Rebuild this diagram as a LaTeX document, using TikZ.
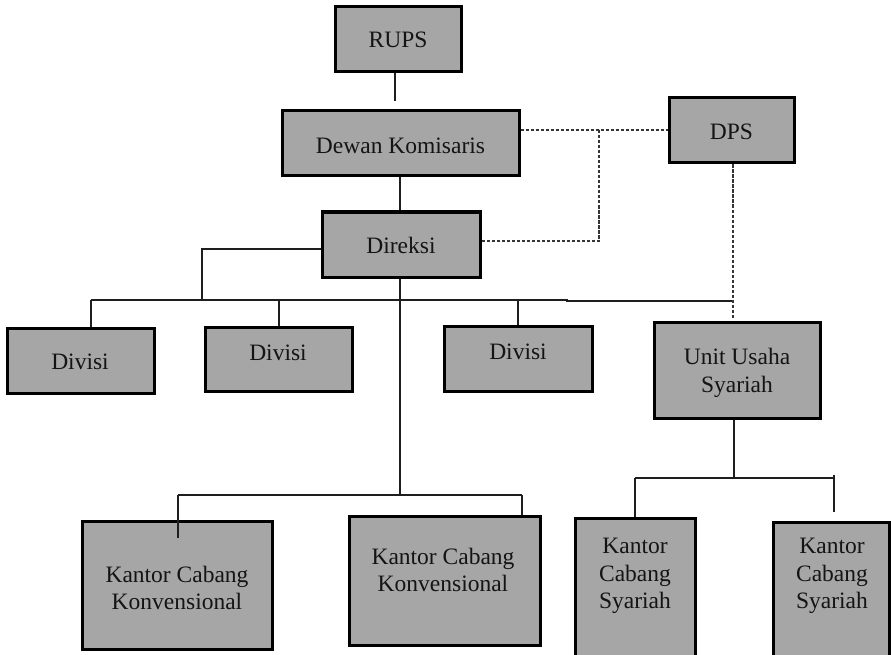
\documentclass[tikz,border=0pt]{standalone}
\usepackage{fontspec}
\setmainfont{Liberation Serif}
\definecolor{boxgray}{RGB}{166,166,166}
\definecolor{linegray}{RGB}{30,30,30}
\begin{document}
\begin{tikzpicture}[x=1pt,y=-1pt,
  box/.style={draw=black, line width=3pt, fill=boxgray, inner sep=0pt},
  txt/.style={font=\fontsize{23.5}{27.5}\selectfont, align=center, inner sep=0pt, text=black!92},
  conn/.style={draw=linegray, line width=1.4pt},
  dconn/.style={draw=linegray!90, line width=1.4pt, dash pattern=on 3.5pt off 1.5pt}]
\clip (0,0) rectangle (891,655);
\fill[white] (0,0) rectangle (891,655);
% boxes
\node[box, minimum width=126pt, minimum height=65pt] (rups) at (398,39.5) {};
\node[box, minimum width=237pt, minimum height=65pt] (dewan) at (400.5,143.5) {};
\node[box, minimum width=125pt, minimum height=65pt] (dps) at (731.5,130.5) {};
\node[box, minimum width=158pt, minimum height=65pt] (direksi) at (401,244.5) {};
\node[box, minimum width=147pt, minimum height=65pt] (div1) at (80.5,360.5) {};
\node[box, minimum width=147pt, minimum height=64pt] (div2) at (278.5,359) {};
\node[box, minimum width=148pt, minimum height=65pt] (div3) at (518,358.5) {};
\node[box, minimum width=166pt, minimum height=96pt] (uus) at (737,370) {};
\node[box, minimum width=190pt, minimum height=128pt] (kck1) at (177,585) {};
\node[box, minimum width=191pt, minimum height=129pt] (kck2) at (444.5,580.5) {};
\node[box, minimum width=120pt, minimum height=150pt] (kcs1) at (635,593) {};
\node[box, minimum width=116pt, minimum height=150pt] (kcs2) at (831,597) {};
% texts
\node[txt] (trups) at (398,40) {RUPS};
\node[txt] (tdewan) at (400.5,146) {Dewan Komisaris};
\node[txt] (tdps) at (731.5,132) {DPS};
\node[txt] (tdireksi) at (401,245) {Direksi};
\node[txt] (tdiv1) at (80,362) {Divisi};
\node[txt] (tdiv2) at (278,353) {Divisi};
\node[txt] (tdiv3) at (518,352) {Divisi};
\node[txt] (tuus) at (737,373) {Unit Usaha\\Syariah};
\node[txt] (tkck1) at (177,588) {Kantor Cabang\\Konvensional};
\node[txt] (tkck2) at (443,570) {Kantor Cabang\\Konvensional};
\node[txt] (tkcs1) at (635,576) {Kantor\\Cabang\\Syariah};
\node[txt] (tkcs2) at (832,576) {Kantor\\Cabang\\Syariah};
% junction coordinates
\coordinate (xa) at (395,0);
\coordinate (xb) at (400,0);
\coordinate (xc) at (599,130);
\coordinate (xd) at (733,0);
\coordinate (lt) at (202,249);
\coordinate (bus0) at (202,300);
\coordinate (busL) at (91,300);
\coordinate (busM) at (567,300);
\coordinate (busM2) at (567,301);
\coordinate (busR) at (734,301);
\coordinate (kb) at (400,495);
\coordinate (kbL) at (178,495);
\coordinate (kbR) at (522,495);
\coordinate (ub) at (734,478);
\coordinate (ubL) at (635,478);
\coordinate (ubR) at (834,478);
\coordinate (ubR0) at (834,475);
% solid connectors
\draw[conn, shorten >=8pt] (rups.south -| xa) -- (dewan.north -| xa);
\draw[conn] (dewan.south -| xb) -- (direksi.north -| xb);
\draw[conn] (direksi.west |- lt) -- (lt) -- (bus0);
\draw[conn] (busL) -- (busM) -- (busM2) -- (busR);
\draw[conn] (busL) -- (div1.north -| busL);
\draw[conn] (279,300) -- (div2.north -| 279,0);
\draw[conn] (518,300) -- (div3.north -| 518,0);
\draw[conn] (direksi.south -| xb) -- (kb);
\draw[conn] (kbL) -- (kbR);
\draw[conn] (kbL) -- (178,538);
\draw[conn] (kbR) -- (kck2.north -| kbR);
\draw[conn] (uus.south -| ub) -- (ub);
\draw[conn] (ubL) -- (ubR);
\draw[conn] (ubL) -- (kcs1.north -| ubL);
\draw[conn, shorten >=9pt] (ubR0) -- (kcs2.north -| ubR0);
% dashed connectors
\draw[dconn] (dewan.east |- xc) -- (xc) -- (dps.west |- xc);
\draw[dconn] (xc) -- (599,241) -- (direksi.east |- 0,241);
\draw[dconn, shorten >=3pt] (dps.south -| xd) -- (uus.north -| xd);
\end{tikzpicture}
\end{document}
